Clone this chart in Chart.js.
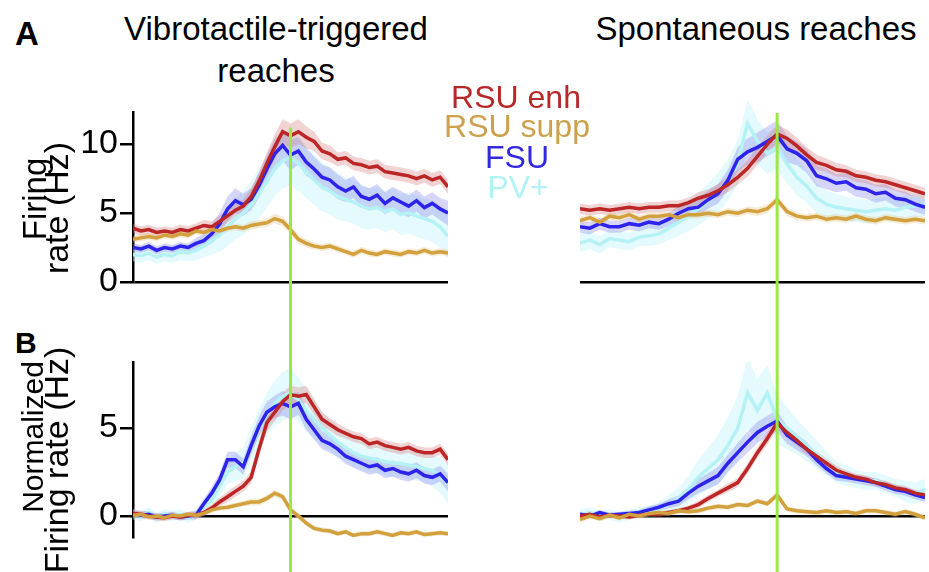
<!DOCTYPE html>
<html>
<head>
<meta charset="utf-8">
<script src="https://cdn.jsdelivr.net/npm/chart.js@4.4.0/dist/chart.umd.min.js"></script>
<style>
html, body { margin: 0; padding: 0; background: #fff; overflow: hidden; }
body { width: 929px; height: 572px; position: relative; font-family: "Liberation Sans", Arial, sans-serif; }
canvas { position: absolute; }
.t { position: absolute; white-space: nowrap; line-height: 1; color: #000; }
.c { transform: translateX(-50%); }
.r { transform: translate(-50%, -50%) rotate(-90deg); }
</style>
</head>
<body>
<canvas id="aL" width="420" height="230" style="left:40px;top:90px"></canvas>
<canvas id="aR" width="359" height="230" style="left:570px;top:90px"></canvas>
<canvas id="bL" width="420" height="252" style="left:40px;top:320px"></canvas>
<canvas id="bR" width="359" height="252" style="left:570px;top:320px"></canvas>

<div class="t" style="left:15px;top:17px;font-size:33px;font-weight:bold">A</div>
<div class="t c" style="left:276px;top:12px;font-size:33px">Vibrotactile-triggered</div>
<div class="t c" style="left:276px;top:54px;font-size:33px">reaches</div>
<div class="t c" style="left:756px;top:12px;font-size:33px">Spontaneous reaches</div>
<div class="t" style="left:15px;top:328px;font-size:30px;font-weight:bold">B</div>

<div class="t r" style="left:34px;top:199px;font-size:33px">Firing</div>
<div class="t r" style="left:56px;top:208px;font-size:34px">rate (Hz)</div>
<div class="t r" style="left:33px;top:437px;font-size:30px">Normalized</div>
<div class="t r" style="left:56px;top:460px;font-size:34px">Firing rate (Hz)</div>

<div class="t c" style="left:516px;top:81px;font-size:32px;color:rgb(185,40,40)">RSU enh</div>
<div class="t c" style="left:517px;top:110px;font-size:32px;color:rgb(205,160,75)">RSU supp</div>
<div class="t c" style="left:517px;top:141px;font-size:32px;color:rgb(50,40,225)">FSU</div>
<div class="t c" style="left:518px;top:171px;font-size:32px;color:rgb(178,242,244)">PV+</div>

<script>
// time relative to reach onset (s)
const tLeft = [-1,-0.95,-0.9,-0.85,-0.8,-0.75,-0.7,-0.65,-0.6,-0.55,-0.5,-0.45,-0.4,-0.35,-0.3,-0.25,-0.2,-0.15,-0.1,-0.05,0,0.05,0.1,0.15,0.2,0.25,0.3,0.35,0.4,0.45,0.5,0.55,0.6,0.65,0.7,0.75,0.8,0.85,0.9,0.95,1]
const tRight = [-1,-0.95,-0.9,-0.85,-0.8,-0.75,-0.7,-0.65,-0.6,-0.55,-0.5,-0.45,-0.4,-0.35,-0.3,-0.25,-0.2,-0.15,-0.1,-0.05,0,0.05,0.1,0.15,0.2,0.25,0.3,0.35,0.4,0.45,0.5,0.55,0.6,0.65,0.7,0.75]
const reachTime = 0

const ticksA = [0, 5, 10]
const ticksB = [0, 5]
const ticksZero = [0]

// A, vibrotactile-triggered (Hz)
const redAL = [3.9,3.7,3.8,3.6,3.7,3.6,3.8,3.7,3.9,4.1, 4.0,4.4,4.8,5.2,5.5,6.2,7.3,8.6,9.8,10.9, 10.6, 10.9,10.5,10.2,9.5,9.3,8.9,9.0,8.6,8.5,8.3, 8.4,8.0,7.9,7.8,7.7,7.5,7.7,7.4,7.6,6.9]
const goldAL = [3.1,3.2,3.3,3.2,3.4,3.3,3.5,3.4,3.7,3.6, 3.8,3.7,3.9,4.0,3.9,4.1,4.2,4.3,4.6,4.4, 3.8, 3.1,2.8,2.6,2.5,2.6,2.4,2.2,2.0,2.3,2.1, 2.0,2.2,2.1,2.0,2.2,2.1,2.3,2.1,2.2,2.1]
const blueAL = [2.5,2.4,2.6,2.3,2.5,2.4,2.6,2.5,2.8,3.0, 3.5,4.2,5.3,5.9,5.6,6.0,7.0,8.2,9.3,9.9, 9.2, 9.5,8.7,8.2,7.6,7.4,6.9,6.6,6.9,6.2,6.0, 6.3,5.7,6.1,5.8,5.5,5.9,5.4,5.7,5.3,5.0]
const cyanAL = [2.0,1.9,2.1,1.8,2.0,1.9,2.2,2.1,2.3,2.6, 3.0,3.4,4.0,4.6,5.0,5.6,6.4,7.3,8.2,8.8, 9.0, 8.6,8.0,7.4,6.9,6.6,6.2,6.0,5.8,5.5,5.3, 5.4,5.1,5.3,4.9,5.0,4.8,4.6,4.4,4.0,3.3]
const semRedAL = [.35,.35,.35,.35,.35,.35,.35,.35,.35,.4, .4,.45,.5,.5,.5,.6,.7,.8,.9,.9, .9, .9,.8,.7,.6,.6,.5,.5,.5,.5,.5, .5,.5,.5,.5,.5,.5,.5,.5,.5,.5]
const semGoldAL = [.25,.25,.25,.25,.25,.25,.25,.25,.25,.25, .25,.25,.25,.25,.25,.3,.3,.3,.35,.35, .35, .3,.3,.25,.25,.25,.25,.25,.25,.25,.25, .25,.25,.25,.25,.25,.25,.25,.25,.25,.25]
const semBlueAL = [.3,.3,.3,.3,.3,.3,.3,.3,.4,.5, .7,.8,.9,.9,.8,.8,.9,1.0,1.1,1.1, 1.1, 1.0,1.0,.9,.9,.9,.9,.8,.8,.8,.8, .8,.8,.8,.8,.8,.8,.8,.8,.8,.9]
const semCyanAL = [.5,.5,.5,.5,.5,.5,.6,.6,.7,.8, 1.0,1.2,1.4,1.5,1.6,1.7,1.8,1.9,2.0,2.0, 2.0, 2.0,1.9,1.8,1.8,1.7,1.7,1.6,1.6,1.6,1.5, 1.5,1.5,1.5,1.5,1.5,1.5,1.5,1.5,1.5,1.5]

// A, spontaneous (Hz)
const redAR = [4.9,4.8,4.9,4.8,4.9,5.0,4.9,5.0,5.0,5.1, 5.1,5.3,5.6,5.8,6.1,6.5,7.0,7.6,8.4,9.2, 9.9, 9.6,9.1,8.5,8.0,7.8,7.5,7.4,7.1,7.0,6.8, 6.7,6.5,6.3,6.1,5.9]
const goldAR = [4.1,4.3,4.0,4.4,4.3,4.5,4.2,4.4,4.4,4.5, 4.3,4.5,4.5,4.6,4.5,4.7,4.6,4.8,4.7,4.9, 5.5, 4.7,4.4,4.3,4.4,4.2,4.3,4.2,4.4,4.2,4.1, 4.3,4.2,4.1,4.2,4.1]
const blueAR = [3.7,3.6,3.9,3.7,3.7,3.9,3.8,4.0,3.9,4.2, 4.6,4.9,5.0,5.5,5.9,6.8,8.2,8.7,9.0,9.4, 9.8, 8.9,8.6,8.1,7.1,6.9,6.6,6.7,6.3,6.2,5.9, 6.0,5.6,5.5,5.2,5.0]
const cyanAR = [2.6,2.8,2.5,2.9,2.8,2.7,3.0,3.1,3.2,3.6, 4.0,4.4,4.9,5.4,6.0,6.8,8.0,10.6,9.4,8.6, 9.0, 7.9,7.0,6.4,5.6,5.2,5.0,4.9,4.8,4.7,4.8, 4.9,4.8,5.0,5.1,5.2]
const semRedAR = [.35,.35,.35,.35,.35,.35,.35,.35,.35,.35, .35,.35,.4,.4,.45,.5,.5,.55,.6,.6, .6, .6,.55,.5,.5,.45,.45,.4,.4,.4,.4, .4,.4,.4,.4,.4]
const semGoldAR = [.25,.25,.25,.25,.25,.25,.25,.25,.25,.25, .25,.25,.25,.25,.25,.25,.25,.25,.3,.3, .3, .3,.25,.25,.25,.25,.25,.25,.25,.25,.25, .25,.25,.25,.25,.25]
const semBlueAR = [.4,.4,.4,.4,.4,.4,.4,.4,.4,.45, .5,.55,.6,.6,.65,.7,.8,.9,1.0,1.0, 1.0, .9,.8,.8,.7,.7,.6,.6,.6,.6,.6, .55,.55,.55,.5,.5]
const semCyanAR = [.6,.6,.6,.6,.6,.6,.6,.7,.7,.8, .9,1.0,1.1,1.2,1.3,1.4,1.5,1.6,1.5,1.4, 1.4, 1.3,1.2,1.1,1.0,.9,.9,.8,.8,.8,.8, .8,.8,.8,.8,.8]

// B, vibrotactile-triggered (normalized Hz)
const redBL = [0.15,0.1,0.0,-0.05,-0.1,0.0,-0.05,0.05,0.05,0.2, 0.45,0.8,1.1,1.4,1.7,2.2,3.8,5.3,5.9,6.5, 6.9, 6.8,6.9,6.2,5.5,5.2,4.9,4.7,4.5,4.4,4.1, 4.2,4.0,3.9,3.8,3.9,3.7,3.6,3.6,3.8,3.2]
const goldBL = [0.05,0.1,-0.05,0.0,-0.1,0.05,0.0,0.1,0.05,0.15, 0.35,0.45,0.5,0.6,0.7,0.8,0.8,1.0,1.3,1.1, 0.35, 0.0,-0.4,-0.7,-0.8,-0.85,-1.0,-0.9,-1.1,-1.0,-1.0, -0.9,-1.0,-1.1,-0.95,-1.0,-0.9,-1.05,-1.0,-0.95,-1.0]
const blueBL = [0.15,0.05,0.1,-0.05,0.0,0.05,-0.05,0.0,0.05,0.7, 1.3,2.05,3.2,3.2,2.8,4.0,5.1,5.9,6.2,6.4, 6.2, 6.4,5.5,4.9,4.3,4.1,3.8,3.4,3.2,3.0,2.8, 2.9,2.6,2.7,2.5,2.4,2.6,2.3,2.2,2.4,1.9]
const cyanBL = [0.1,0.0,0.2,-0.1,0.1,0.0,0.1,-0.1,0.1,0.5, 0.9,1.7,2.5,2.8,3.0,4.0,5.0,5.8,6.4,6.8, 7.0, 6.6,6.0,5.5,5.0,4.6,4.2,3.9,3.6,3.4,3.3, 3.2,3.1,3.0,3.0,2.9,2.8,2.7,2.6,2.3,1.8]
const semRedBL = [.2,.2,.2,.2,.2,.2,.2,.2,.2,.2, .2,.25,.3,.3,.3,.35,.4,.5,.5,.5, .5, .5,.5,.45,.4,.35,.35,.3,.3,.3,.3, .3,.3,.3,.3,.3,.3,.3,.3,.3,.35]
const semGoldBL = [.15,.15,.15,.15,.15,.15,.15,.15,.15,.15, .15,.15,.15,.15,.15,.2,.2,.2,.2,.2, .2, .2,.15,.15,.15,.15,.15,.15,.15,.15,.15, .15,.15,.15,.15,.15,.15,.15,.15,.15,.15]
const semBlueBL = [.2,.2,.2,.2,.2,.2,.2,.2,.25,.3, .35,.4,.45,.45,.45,.5,.55,.6,.65,.7, .7, .65,.6,.55,.5,.5,.45,.45,.45,.45,.45, .45,.45,.45,.45,.45,.45,.45,.45,.45,.5]
const semCyanBL = [.3,.3,.3,.3,.3,.3,.3,.3,.3,.4, .5,.6,.7,.8,.9,1.0,1.1,1.2,1.3,1.4, 1.4, 1.3,1.2,1.1,1.0,.9,.9,.8,.8,.8,.8, .8,.8,.8,.8,.8,.8,.8,.9,1.0,1.1]

// B, spontaneous (normalized Hz)
const redBR = [0.0,0.1,-0.05,0.05,0.0,-0.05,0.05,0.1,0.1,0.2, 0.3,0.45,0.65,1.0,1.3,1.6,1.9,2.7,3.6,4.4, 5.3, 4.75,4.3,3.8,3.4,3.0,2.6,2.4,2.2,2.1,1.9, 1.8,1.6,1.5,1.3,1.2]
const goldBR = [-0.2,0.0,-0.15,0.05,-0.1,0.1,0.0,0.15,0.2,0.15, 0.3,0.25,0.3,0.45,0.55,0.5,0.65,0.6,0.85,0.7, 1.2, 0.4,0.3,0.25,0.2,0.3,0.2,0.25,0.15,0.3,0.3, 0.2,0.1,0.25,0.1,-0.1]
const blueBR = [0.1,0.0,0.2,0.05,0.1,0.15,0.2,0.35,0.5,0.7, 0.85,1.3,1.7,2.0,2.3,3.0,3.6,4.2,4.75,5.1, 5.4, 4.6,4.2,3.8,3.2,2.7,2.3,2.2,2.1,2.0,1.9, 1.7,1.5,1.4,1.2,1.05]
const cyanBR = [0.1,0.2,0.0,0.1,-0.1,0.1,0.2,0.3,0.4,0.7, 1.0,1.5,2.2,2.7,3.2,4.0,5.0,7.0,6.0,7.0, 5.5, 5.0,4.5,4.0,3.5,3.0,2.5,2.3,2.1,2.0,2.0, 1.8,1.6,1.4,1.3,1.5]
const semRedBR = [.15,.15,.15,.15,.15,.15,.15,.15,.15,.15, .15,.15,.2,.2,.2,.25,.25,.3,.3,.35, .35, .3,.3,.3,.25,.25,.25,.2,.2,.2,.2, .2,.2,.2,.2,.2]
const semGoldBR = [.15,.15,.15,.15,.15,.15,.15,.15,.15,.15, .15,.15,.15,.15,.15,.15,.15,.15,.15,.15, .2, .15,.15,.15,.15,.15,.15,.15,.15,.15,.15, .15,.15,.15,.15,.15]
const semBlueBR = [.15,.15,.15,.15,.15,.15,.15,.2,.2,.25, .3,.35,.4,.45,.5,.5,.55,.6,.6,.6, .6, .5,.45,.4,.35,.3,.3,.25,.25,.25,.25, .25,.25,.25,.25,.25]
const semCyanBR = [.3,.3,.3,.3,.3,.3,.3,.3,.4,.5, .6,.8,1.0,1.2,1.4,1.6,1.8,2.0,1.8,1.6, 1.4, 1.2,1.0,.9,.8,.7,.6,.6,.5,.5,.5, .5,.5,.6,.6,.6]

const family = '"Liberation Sans", Arial, sans-serif'
const colors = {
	gold: { line: "rgb(210,160,60)", band: "rgba(225,190,120,0.3)" },
	red: { line: "rgb(188,38,38)", band: "rgba(215,120,120,0.33)" },
	blue: { line: "rgb(45,35,235)", band: "rgba(130,130,240,0.33)" },
	cyan: { line: "rgb(180,242,246)", band: "rgba(195,245,250,0.45)" },
}

// green line at reach onset
const reachLine = {
	id: "reach",
	afterDatasetsDraw(chart, args, opts) {
		const x = chart.scales.x.getPixelForValue(reachTime)
		const top = opts.top == null ? 0 : chart.scales.y.getPixelForValue(opts.top)
		const c = chart.ctx
		c.save()
		c.strokeStyle = "rgb(155,232,65)"
		c.lineWidth = 3
		c.beginPath()
		c.moveTo(x, top)
		c.lineTo(x, chart.height)
		c.stroke()
		c.restore()
	},
}

function panel(id, times, series, cfg) {
	const datasets = []
	series.forEach((s, i) => {
		datasets.push({
			data: times.map((t, j) => ({ x: t, y: s.mean[j] + s.sem[j] })),
			borderColor: "rgba(0,0,0,0)", borderWidth: 1, backgroundColor: s.col.band,
			fill: "+1", order: 10 + i,
		})
		datasets.push({
			data: times.map((t, j) => ({ x: t, y: s.mean[j] - s.sem[j] })),
			borderColor: "rgba(0,0,0,0)", borderWidth: 1, fill: false, order: 10 + i,
		})
		datasets.push({
			data: times.map((t, j) => ({ x: t, y: s.mean[j] })),
			borderColor: s.col.line, borderWidth: 3.5, fill: false, order: i,
		})
	})

	new Chart(document.getElementById(id), {
		type: "line",
		data: { datasets },
		plugins: [reachLine],
		options: {
			responsive: false,
			animation: false,
			devicePixelRatio: 1,
			layout: { padding: cfg.pad },
			elements: { point: { radius: 0 }, line: { tension: 0 } },
			plugins: {
				legend: { display: false },
				tooltip: { enabled: false },
				reach: { top: cfg.greenTop },
			},
			scales: {
				x: { type: "linear", display: false, min: times[0], max: times[times.length - 1] },
				y: {
					min: cfg.yMin,
					max: cfg.yMax,
					afterBuildTicks: (sc) => { sc.ticks = cfg.ticks.map((v) => ({ value: v })) },
					afterFit: (sc) => { sc.width = cfg.yWidth },
					ticks: { display: cfg.axis, font: { size: 34, family }, color: "#000", padding: 2 },
					border: { display: cfg.axis, color: "#000", width: 2.5 },
					grid: {
						drawTicks: cfg.axis,
						tickLength: 13,
						tickColor: "#000",
						tickWidth: 2.5,
						lineWidth: 2.5,
						color: (c) => (c.tick && c.tick.value === 0 ? "#000" : "rgba(0,0,0,0)"),
					},
				},
			},
		},
	})
}

panel("aL", tLeft, [
	{ mean: goldAL, sem: semGoldAL, col: colors.gold },
	{ mean: redAL, sem: semRedAL, col: colors.red },
	{ mean: blueAL, sem: semBlueAL, col: colors.blue },
	{ mean: cyanAL, sem: semCyanAL, col: colors.cyan },
], { yMin: 0, yMax: 12.3, ticks: ticksA, axis: true, yWidth: 93, greenTop: 11.2,
	pad: { top: 8, bottom: 38, left: 0, right: 12 } })

panel("aR", tRight, [
	{ mean: goldAR, sem: semGoldAR, col: colors.gold },
	{ mean: redAR, sem: semRedAR, col: colors.red },
	{ mean: blueAR, sem: semBlueAR, col: colors.blue },
	{ mean: cyanAR, sem: semCyanAR, col: colors.cyan },
], { yMin: 0, yMax: 12.3, ticks: ticksZero, axis: false, yWidth: 10, greenTop: 11.3,
	pad: { top: 8, bottom: 38, left: 0, right: 4 } })

panel("bL", tLeft, [
	{ mean: goldBL, sem: semGoldBL, col: colors.gold },
	{ mean: redBL, sem: semRedBL, col: colors.red },
	{ mean: blueBL, sem: semBlueBL, col: colors.blue },
	{ mean: cyanBL, sem: semCyanBL, col: colors.cyan },
], { yMin: -1.19, yMax: 8.75, ticks: ticksB, axis: true, yWidth: 93, greenTop: null,
	pad: { top: 42, bottom: 35, left: 0, right: 12 } })

panel("bR", tRight, [
	{ mean: goldBR, sem: semGoldBR, col: colors.gold },
	{ mean: redBR, sem: semRedBR, col: colors.red },
	{ mean: blueBR, sem: semBlueBR, col: colors.blue },
	{ mean: cyanBR, sem: semCyanBR, col: colors.cyan },
], { yMin: -1.19, yMax: 8.75, ticks: ticksZero, axis: false, yWidth: 10, greenTop: null,
	pad: { top: 42, bottom: 35, left: 0, right: 4 } })
</script>
</body>
</html>
